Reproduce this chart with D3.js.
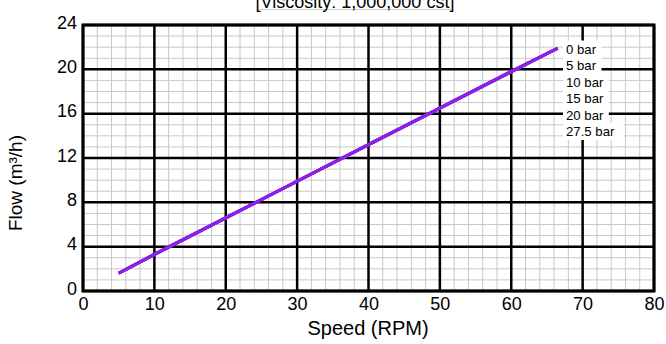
<!DOCTYPE html>
<html><head><meta charset="utf-8">
<script src="https://cdn.jsdelivr.net/npm/d3@7"></script>
<style>body{margin:0;background:#fff}svg{display:block;font-family:"Liberation Sans",Arial,sans-serif}</style>
</head><body><svg id="c" width="666" height="344"></svg>
<script>
const title = "[Viscosity: 1,000,000 cst]";
const xLabel = "Speed (RPM)";
const yLabel = "Flow (m³/h)";
const xTicks = [0,10,20,30,40,50,60,70,80];
const yTicks = [0,4,8,12,16,20,24];
const pressures = ["0 bar","5 bar","10 bar","15 bar","20 bar","27.5 bar"];
const speeds = [5, 10, 20, 30, 40, 50, 60, 66.5];
const flow0 = [1.6, 3.3, 6.6, 9.9, 13.2, 16.5, 19.8, 21.9];
const flow5 = [1.6, 3.3, 6.6, 9.9, 13.2, 16.5, 19.8, 21.9];
const flow10 = [1.6, 3.3, 6.6, 9.9, 13.2, 16.5, 19.8, 21.9];
const flow15 = [1.6, 3.3, 6.6, 9.9, 13.2, 16.5, 19.8, 21.9];
const flow20 = [1.6, 3.3, 6.6, 9.9, 13.2, 16.5, 19.8, 21.9];
const flow275 = [1.6, 3.3, 6.6, 9.9, 13.2, 16.5, 19.8, 21.9];
const series = [flow0, flow5, flow10, flow15, flow20, flow275];

const svg = d3.select("#c");
const L = 83, R = 654, T = 25, B = 291;
const x = d3.scaleLinear().domain([0,80]).range([L,R]);
const y = d3.scaleLinear().domain([0,24]).range([B,T]);
const FONT = "Liberation Sans, Arial, sans-serif";

// minor grid
const g = svg.append("g");
g.selectAll(".mx").data(d3.range(0,81,2)).enter().append("line")
  .attr("x1",d=>x(d)).attr("x2",d=>x(d)).attr("y1",T).attr("y2",B)
  .attr("stroke","#c8c8c8").attr("stroke-width",1);
g.selectAll(".my").data(d3.range(0,25,1)).enter().append("line")
  .attr("y1",d=>y(d)).attr("y2",d=>y(d)).attr("x1",L).attr("x2",R)
  .attr("stroke","#c8c8c8").attr("stroke-width",1);
// major grid
g.selectAll(".Mx").data(xTicks).enter().append("line")
  .attr("x1",d=>x(d)).attr("x2",d=>x(d)).attr("y1",T).attr("y2",B)
  .attr("stroke","#000").attr("stroke-width",2.5);
g.selectAll(".My").data(yTicks).enter().append("line")
  .attr("y1",d=>y(d)).attr("y2",d=>y(d)).attr("x1",L).attr("x2",R)
  .attr("stroke","#000").attr("stroke-width",2.5);
svg.append("rect").attr("x",L).attr("y",T).attr("width",R-L).attr("height",B-T)
  .attr("fill","none").attr("stroke","#000").attr("stroke-width",3);

// axes tick labels
const xa = svg.append("g").attr("transform",`translate(0,${B})`)
  .call(d3.axisBottom(x).tickValues(xTicks).tickSize(0).tickPadding(6));
xa.select(".domain").remove();
xa.selectAll("text").attr("font-size",18).attr("fill","#000").attr("font-family",FONT);
const ya = svg.append("g").attr("transform",`translate(${L},0)`)
  .call(d3.axisLeft(y).tickValues(yTicks).tickSize(0).tickPadding(6));
ya.select(".domain").remove();
ya.selectAll("text").attr("font-size",18).attr("fill","#000").attr("dy","3px").attr("font-family",FONT);

// lines
const line = d3.line().x((d,i)=>x(speeds[i])).y(d=>y(d));
svg.selectAll(".s").data(series).enter().append("path")
  .attr("d",line).attr("fill","none").attr("stroke","#8a22e6").attr("stroke-width",3);

// pressure labels
const lab = svg.append("g").selectAll("g").data(pressures).enter().append("g")
  .attr("transform",(d,i)=>`translate(563,${49 + i*16.5})`);
lab.append("rect").attr("x",0).attr("y",-8.5).attr("height",17)
  .attr("width",d=>d.length*7.3 + 2).attr("fill","#ffffff").attr("stroke","none");
lab.append("text").attr("x",3).attr("y",0).attr("dy","0.35em")
  .attr("font-size",13.2).attr("font-family",FONT).attr("fill","#000").text(d=>d);

// title
svg.append("line").attr("x1",259).attr("x2",451).attr("y1",9.5).attr("y2",9.5).attr("stroke","#ccc");
svg.append("text").attr("x",355).attr("y",7.5).attr("text-anchor","middle")
  .attr("font-size",18).attr("font-family",FONT).attr("fill","#000").text(title);

svg.append("text").attr("x",368).attr("y",335).attr("text-anchor","middle")
  .attr("font-size",20).attr("font-family",FONT).attr("fill","#000").text(xLabel);
svg.append("text").attr("transform","translate(22,183) rotate(-90)").attr("text-anchor","middle")
  .attr("font-size",19).attr("font-family",FONT).attr("fill","#000").text(yLabel);
</script></body></html>
